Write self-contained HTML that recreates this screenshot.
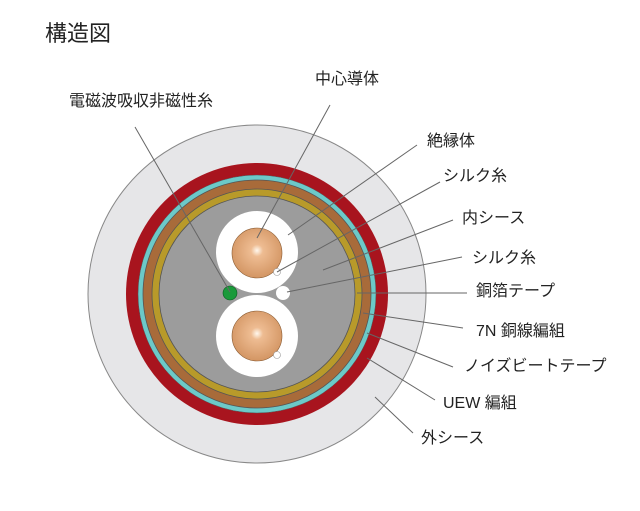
<!DOCTYPE html>
<html><head><meta charset="utf-8"><style>
body{margin:0;background:#fff;}
svg text{font-family:"Liberation Sans","Noto Sans CJK JP",sans-serif;fill:#222;}
</style></head><body>
<svg width="640" height="506" viewBox="0 0 640 506" xmlns="http://www.w3.org/2000/svg">
<defs>
<radialGradient id="cu" cx="0.5" cy="0.45" r="0.6">
<stop offset="0" stop-color="#fff8ee"/><stop offset="0.2" stop-color="#eebc92"/><stop offset="1" stop-color="#d0915e"/>
</radialGradient>
</defs>
<text x="45" y="41" font-size="22">構造図</text>
<circle cx="257" cy="294" r="169" fill="#e6e6e8" stroke="#888" stroke-width="1"/>
<circle cx="257" cy="294" r="131" fill="#a8141e"/>
<circle cx="257" cy="294" r="119" fill="#6cc9c8" stroke="#555" stroke-width="0.5"/>
<circle cx="257" cy="294" r="114" fill="#a86b3a" stroke="#555" stroke-width="0.8"/>
<circle cx="257" cy="294" r="105" fill="#b89a2a" stroke="#555" stroke-width="0.8"/>
<circle cx="257" cy="294" r="98" fill="#9c9c9c" stroke="#555" stroke-width="0.8"/>
<circle cx="257" cy="252" r="41" fill="#fff"/>
<circle cx="257" cy="336" r="41" fill="#fff"/>
<circle cx="257" cy="253" r="25" fill="url(#cu)" stroke="#8a5a30" stroke-width="0.6"/>
<circle cx="257" cy="336" r="25" fill="url(#cu)" stroke="#8a5a30" stroke-width="0.6"/>
<circle cx="277" cy="272" r="3.5" fill="#fff" stroke="#999" stroke-width="0.6"/>
<circle cx="277" cy="355" r="3.5" fill="#fff" stroke="#999" stroke-width="0.6"/>
<circle cx="230" cy="293" r="7" fill="#1a9a3a" stroke="#0a5a20" stroke-width="0.6"/>
<circle cx="283" cy="293" r="7" fill="#fff"/>
<g stroke="#666" stroke-width="1" fill="none">
<line x1="135" y1="127" x2="230" y2="292"/>
<line x1="330" y1="105" x2="257" y2="238"/>
<line x1="417" y1="145" x2="288" y2="235"/>
<line x1="440" y1="182" x2="277" y2="272"/>
<line x1="453" y1="220" x2="323" y2="270"/>
<line x1="462" y1="257" x2="287" y2="292"/>
<line x1="467" y1="293" x2="357" y2="293"/>
<line x1="463" y1="328" x2="363" y2="313"/>
<line x1="453" y1="367" x2="367" y2="333"/>
<line x1="435" y1="400" x2="367" y2="358"/>
<line x1="413" y1="433" x2="375" y2="397"/>
</g>
<g font-size="16">
<text x="69" y="106">電磁波吸収非磁性糸</text>
<text x="315" y="84">中心導体</text>
<text x="427" y="146">絶縁体</text>
<text x="443" y="181">シルク糸</text>
<text x="462" y="223">内シース</text>
<text x="472" y="263">シルク糸</text>
<text x="476" y="296">銅箔テープ</text>
<text x="476" y="336">7N 銅線編組</text>
<text x="464" y="371">ノイズビートテープ</text>
<text x="443" y="408">UEW 編組</text>
<text x="421" y="443">外シース</text>
</g>
</svg>
</body></html>
